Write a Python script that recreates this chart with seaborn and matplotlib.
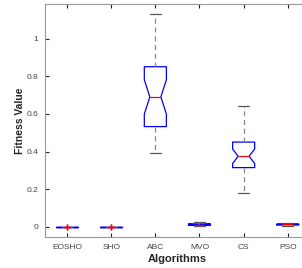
import numpy as np
import pandas as pd
import seaborn as sns
import matplotlib
matplotlib.use("Agg")
import matplotlib.pyplot as plt

# fitness values of the 30 runs per algorithm
algoritmos = ["EOSHO", "SHO", "ABC", "MVO", "CS", "PSO"]

eosho = [0.0, 0.0, 0.0, 0.0, 0.0, 0.0, 0.0, 0.0, 0.0, 0.0,
         0.0, 0.0, 0.0, 0.0, 0.0, 0.0, 0.0, 0.0, 0.0, 0.0,
         0.0, 0.0, 0.0, 0.0, 0.0, 0.0, 0.0, 0.0, 0.0005, 0.001]
sho = [0.0, 0.0, 0.0, 0.0, 0.0, 0.0, 0.0, 0.0, 0.0, 0.0,
       0.0, 0.0, 0.0, 0.0, 0.0, 0.0, 0.0, 0.0, 0.0, 0.0,
       0.0, 0.0, 0.0, 0.0, 0.0, 0.0, 0.0, 0.0, 0.0005, 0.001]
abc = [0.39, 0.42, 0.45, 0.47, 0.49, 0.51, 0.52, 0.53, 0.54, 0.57,
       0.60, 0.62, 0.65, 0.67, 0.68, 0.70, 0.72, 0.74, 0.77, 0.79,
       0.82, 0.845, 0.852, 0.88, 0.92, 0.96, 1.00, 1.04, 1.09, 1.13]
mvo = [0.004, 0.005, 0.006, 0.007, 0.008, 0.008, 0.009, 0.009, 0.010, 0.010,
       0.011, 0.011, 0.012, 0.012, 0.012, 0.013, 0.013, 0.014, 0.014, 0.015,
       0.015, 0.016, 0.016, 0.017, 0.018, 0.019, 0.020, 0.021, 0.023, 0.024]
cs = [0.18, 0.22, 0.25, 0.27, 0.285, 0.30, 0.31, 0.313, 0.32, 0.33,
      0.34, 0.35, 0.36, 0.365, 0.37, 0.38, 0.39, 0.40, 0.41, 0.42,
      0.435, 0.445, 0.452, 0.47, 0.49, 0.51, 0.54, 0.57, 0.60, 0.64]
pso = [0.006, 0.007, 0.008, 0.009, 0.009, 0.010, 0.010, 0.011, 0.011, 0.011,
       0.012, 0.012, 0.012, 0.013, 0.013, 0.013, 0.013, 0.014, 0.014, 0.014,
       0.015, 0.015, 0.015, 0.016, 0.016, 0.017, 0.017, 0.018, 0.019, 0.020]

datos = pd.DataFrame(dict(zip(algoritmos, [eosho, sho, abc, mvo, cs, pso])))

sns.set_style("white")
plt.rcParams["font.family"] = ["Liberation Sans", "DejaVu Sans"]

fig = plt.figure(figsize=(3.02, 2.68), dpi=100)
ax = fig.add_axes([0.149, 0.116, 0.877, 0.869])

color_cap = "#555555"
sns.boxplot(
    data=datos,
    ax=ax,
    notch=True,
    width=0.5,
    fill=False,
    linecolor="blue",
    linewidth=0.9,
    boxprops=dict(color="blue"),
    medianprops=dict(color="red"),
    whiskerprops=dict(color="#888888", linestyle=(0, (4, 3))),
    capprops=dict(color=color_cap),
    flierprops=dict(marker="+", markeredgecolor="red", markersize=5),
)

# caps mas estrechos, como en el boxplot de MATLAB
for linea in ax.lines:
    if linea.get_color() == color_cap:
        x = np.asarray(linea.get_xdata(), dtype=float)
        centro = x.mean()
        linea.set_xdata([centro - 0.12, centro + 0.12])

ax.set_xlim(-0.5, 5.5)
ax.set_ylim(-0.053, 1.183)
ax.set_yticks([0, 0.2, 0.4, 0.6, 0.8, 1])
ax.set_yticklabels(["0", "0.2", "0.4", "0.6", "0.8", "1"])
ax.tick_params(direction="in", length=3, width=0.8, color="#222222",
               labelcolor="#444444", labelsize=6, top=True, right=True,
               left=True, bottom=True, pad=5)
for lado in ax.spines.values():
    lado.set_color("#999999")
    lado.set_linewidth(0.8)

ax.set_xlabel("Algorithms", fontsize=8, fontweight="bold", labelpad=2)
ax.set_ylabel("Fitness Value", fontsize=7.5, fontweight="bold")
ax.yaxis.set_label_coords(-0.075, 0.5)

fig.savefig("out.png", dpi=100)
